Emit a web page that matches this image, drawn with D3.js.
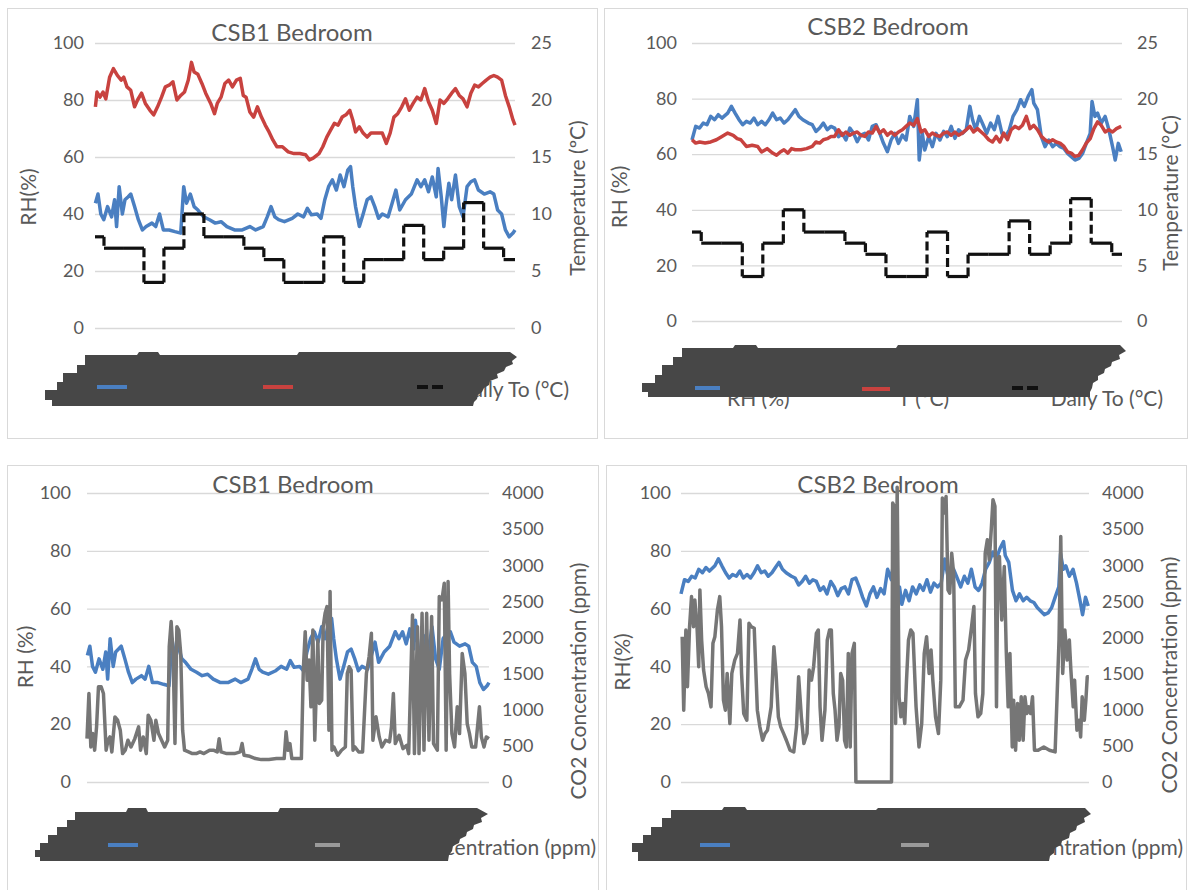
<!DOCTYPE html>
<html><head><meta charset="utf-8">
<script src="https://cdn.jsdelivr.net/npm/d3@7"></script>
<style>
body{margin:0;background:#fff;}
svg{display:block;font-family:Lato,"Open Sans",sans-serif;}
</style>
</head><body>
<svg id="c" width="1189" height="890"></svg>
<script>
// ---------- DATA (time in days, value) ----------
const csb1RH = [[0.57,43.8],[0.70,47],[0.84,40],[0.99,38],[1.18,42.6],[1.38,39],[1.53,45],[1.63,35.6],[1.76,49.6],[1.92,40],[2.05,45],[2.20,46],[2.34,47],[2.53,42.6],[2.72,38],[2.92,34.4],[3.11,35.6],[3.40,36.8],[3.59,35.6],[3.78,40],[3.97,34.4],[4.26,34.4],[4.55,33.8],[4.84,33.3],[4.99,49.6],[5.13,43.8],[5.32,47],[5.51,42.6],[5.70,41.4],[5.99,39],[6.28,38],[6.57,36.8],[6.86,37.3],[7.15,35.6],[7.53,34.4],[7.92,34.4],[8.30,35.6],[8.59,34.4],[8.97,35.6],[9.17,39],[9.36,42.6],[9.55,39],[9.74,38],[10.03,37.3],[10.42,38.5],[10.70,40],[10.99,39],[11.18,42],[11.38,39.7],[11.67,40],[11.86,38.5],[12.05,45],[12.24,49.6],[12.43,52],[12.63,48.4],[12.82,53.7],[13.01,49.6],[13.20,55.4],[13.34,56.6],[13.45,49.6],[13.59,42.6],[13.78,35.6],[13.97,40],[14.17,45],[14.36,46],[14.55,42.6],[14.74,38.5],[14.93,40],[15.22,39],[15.42,43.8],[15.61,48.4],[15.80,41.4],[16.09,45],[16.38,47],[16.67,52],[16.86,49.6],[17.05,52],[17.24,47.8],[17.43,53],[17.63,46],[17.72,56],[17.88,46],[18.01,35.6],[18.11,42.6],[18.26,50.8],[18.40,45],[18.59,53.7],[18.78,42.6],[18.97,39],[19.17,49.6],[19.36,51.3],[19.55,52],[19.74,48.4],[20.03,47],[20.32,47.8],[20.51,47],[20.70,41.4],[20.90,40],[21.09,34.4],[21.28,32],[21.47,33.3],[21.57,34.4]];

const csb1T = [[0.57,19.4],[0.65,20.7],[0.80,20.25],[0.95,20.7],[1.09,20.1],[1.28,22.0],[1.47,22.75],[1.67,22.15],[1.86,21.75],[1.99,22.0],[2.15,21.15],[2.34,20.85],[2.53,19.4],[2.68,20.0],[2.88,20.6],[3.07,19.7],[3.30,19.1],[3.49,18.7],[3.68,19.4],[3.88,20.25],[4.07,21.15],[4.26,21.3],[4.45,21.6],[4.65,20.0],[4.84,20.4],[5.03,20.7],[5.22,21.75],[5.38,23.3],[5.51,22.45],[5.70,22.25],[5.90,21.45],[6.09,20.6],[6.34,19.7],[6.53,18.8],[6.67,19.7],[6.86,20.25],[7.05,21.45],[7.24,21.75],[7.43,21.15],[7.63,21.75],[7.82,21.9],[7.97,20.4],[8.11,20.25],[8.30,18.95],[8.49,18.5],[8.68,19.4],[8.88,18.5],[9.07,17.8],[9.26,17.2],[9.45,16.5],[9.65,15.9],[9.93,15.9],[10.22,15.45],[10.51,15.3],[10.80,15.3],[11.09,15.2],[11.28,14.75],[11.47,14.9],[11.76,15.3],[11.95,15.9],[12.15,16.75],[12.34,17.35],[12.53,17.95],[12.72,17.8],[12.92,18.5],[13.11,18.7],[13.30,19.1],[13.45,18.25],[13.59,17.2],[13.78,17.65],[13.97,17.1],[14.17,16.75],[14.36,17.1],[14.65,17.1],[14.93,17.1],[15.13,16.2],[15.32,17.1],[15.51,18.5],[15.70,18.8],[15.90,19.4],[16.09,20.1],[16.28,19.1],[16.47,19.7],[16.67,20.25],[16.86,20.0],[17.05,21.0],[17.24,19.85],[17.43,19.1],[17.63,17.95],[17.82,20.0],[18.01,19.7],[18.20,20.1],[18.40,20.6],[18.59,21.0],[18.78,20.4],[18.97,20.1],[19.17,19.4],[19.36,20.6],[19.55,21.3],[19.74,21.15],[19.93,21.45],[20.13,21.75],[20.32,22.0],[20.51,22.15],[20.70,22.0],[20.90,21.75],[21.09,20.4],[21.28,19.4],[21.47,18.25],[21.57,17.8]];

const csb2RH = [[0.55,65.1],[0.73,70],[0.92,69.4],[1.10,71.2],[1.28,70.6],[1.46,73.6],[1.65,72.4],[1.83,74.2],[2.01,73],[2.29,74.8],[2.47,77.2],[2.65,74.8],[2.84,72.4],[3.02,70.6],[3.20,71.8],[3.39,71.2],[3.57,73],[3.75,70.6],[3.94,71.8],[4.12,70.6],[4.30,72.4],[4.48,74.8],[4.67,72.4],[4.85,73],[5.03,71.2],[5.22,72.4],[5.40,74.2],[5.58,76],[5.76,73.6],[5.95,72.4],[6.22,71.2],[6.41,70.6],[6.59,68.2],[6.77,69.4],[6.95,71.2],[7.14,68.8],[7.32,70],[7.50,69.4],[7.69,66.3],[7.87,67.5],[8.05,65.1],[8.24,69.4],[8.42,67.5],[8.60,64.5],[8.78,66.9],[8.97,67.5],[9.15,65.1],[9.33,70],[9.52,70.6],[9.70,67.5],[9.88,63.9],[10.07,60.9],[10.25,65.1],[10.43,67.5],[10.61,63.9],[10.80,66.9],[10.98,65.1],[11.16,73.6],[11.35,70],[11.53,79.6],[11.62,57.9],[11.77,67.5],[11.89,61.5],[12.08,66.3],[12.26,62.7],[12.44,67.5],[12.63,65.1],[12.81,68.2],[12.99,66.3],[13.18,70],[13.36,65.7],[13.54,68.8],[13.72,67.5],[13.91,68.8],[14.09,77.2],[14.22,72.4],[14.37,68.8],[14.55,73.6],[14.73,70.6],[14.91,67.5],[15.10,71.2],[15.28,68.8],[15.46,73.6],[15.65,67.5],[15.83,66.3],[16.01,68.8],[16.19,73.6],[16.38,76],[16.56,79.6],[16.74,77.2],[16.93,80.8],[17.11,83.2],[17.20,78.4],[17.38,76],[17.57,66.3],[17.75,62.7],[17.93,65.1],[18.12,62.7],[18.30,63.9],[18.48,62.7],[18.67,62.1],[18.85,60.3],[19.03,59.1],[19.21,57.9],[19.40,58.5],[19.58,60.3],[19.76,63.9],[19.95,67.5],[20.04,79],[20.18,73.6],[20.31,74.8],[20.49,71.2],[20.68,73.6],[20.86,68.8],[21.04,62.7],[21.17,57.9],[21.32,63.9],[21.46,60.9]];

const csb2T = [[0.55,16.3],[0.73,16.0],[0.92,16.1],[1.19,16.0],[1.46,16.1],[1.74,16.3],[2.01,16.6],[2.29,16.9],[2.56,16.7],[2.75,16.4],[2.93,16.3],[3.20,15.7],[3.48,15.8],[3.75,15.7],[3.94,15.2],[4.21,15.5],[4.48,15.1],[4.67,14.9],[4.85,15.2],[5.03,15.4],[5.22,15.1],[5.40,15.5],[5.58,15.4],[5.86,15.4],[6.13,15.5],[6.41,15.7],[6.59,16.1],[6.77,16.0],[6.95,16.3],[7.14,16.4],[7.32,16.6],[7.50,16.6],[7.69,17.2],[7.87,16.7],[8.05,17.0],[8.24,16.7],[8.42,16.9],[8.60,17.0],[8.78,16.7],[8.97,16.6],[9.15,17.0],[9.33,16.9],[9.52,17.5],[9.70,16.9],[9.88,17.2],[10.07,16.7],[10.25,17.0],[10.43,16.7],[10.61,17.0],[10.80,17.2],[10.98,17.5],[11.16,17.8],[11.35,17.6],[11.53,18.2],[11.71,17.0],[11.89,17.2],[12.08,16.6],[12.26,16.9],[12.44,16.7],[12.63,16.6],[12.81,16.9],[12.99,17.0],[13.18,16.7],[13.36,17.0],[13.54,16.7],[13.72,16.9],[13.91,17.2],[14.09,17.5],[14.27,17.0],[14.46,17.3],[14.64,17.0],[14.82,16.7],[15.01,16.3],[15.19,16.1],[15.37,16.6],[15.55,16.1],[15.74,16.9],[15.92,16.3],[16.10,17.2],[16.29,17.5],[16.47,17.3],[16.65,17.6],[16.84,18.4],[17.02,17.3],[17.20,17.6],[17.38,17.2],[17.57,16.6],[17.75,16.3],[17.93,16.1],[18.12,16.3],[18.30,16.1],[18.48,16.0],[18.67,15.7],[18.85,15.2],[19.03,15.1],[19.21,14.8],[19.40,14.9],[19.58,15.4],[19.76,16.0],[19.95,16.4],[20.13,17.3],[20.31,17.9],[20.49,17.6],[20.68,17.0],[20.86,17.2],[21.04,17.0],[21.23,17.3],[21.46,17.5]];

// daily outdoor temperature, one value per day (day 0 .. day 21)
const dailyTo = [8,7,7,4,7,10,8,8,7,6,4,4,8,4,6,6,9,6,7,11,7,6];

const csb1CO2 = [[0.55,600],[0.65,1225],[0.75,485],[0.85,670],[0.95,440],[1.05,763],[1.15,1318],[1.29,1318],[1.41,1225],[1.55,440],[1.65,578],[1.75,624],[1.85,416],[2.01,900],[2.15,855],[2.29,717],[2.41,393],[2.55,440],[2.69,578],[2.85,485],[3.05,600],[3.25,763],[3.35,440],[3.49,624],[3.65,393],[3.75,925],[3.89,855],[4.05,578],[4.15,855],[4.29,670],[4.45,578],[4.61,485],[4.77,578],[4.85,1873],[4.95,2220],[5.05,1780],[5.15,532],[5.25,2150],[5.35,2100],[5.45,1780],[5.55,717],[5.65,440],[5.86,416],[6.06,393],[6.26,393],[6.46,416],[6.66,393],[6.96,440],[7.16,440],[7.36,416],[7.46,600],[7.56,416],[7.86,393],[8.26,393],[8.56,416],[8.66,532],[8.76,370],[9.06,356],[9.36,324],[9.66,310],[10.06,310],[10.46,324],[10.86,324],[10.96,694],[11.06,440],[11.16,532],[11.26,324],[11.56,324],[11.76,324],[11.86,1549],[11.96,2081],[12.06,1410],[12.16,1688],[12.26,1040],[12.36,2104],[12.46,578],[12.62,1965],[12.70,1087],[12.82,1133],[12.90,2150],[13.00,2335],[13.10,2428],[13.20,717],[13.26,2636],[13.36,440],[13.46,485],[13.66,370],[13.86,440],[14.06,485],[14.16,1503],[14.26,1595],[14.36,1549],[14.46,440],[14.56,485],[14.76,416],[14.96,416],[15.16,1503],[15.30,1734],[15.42,2058],[15.50,578],[15.66,902],[15.83,624],[15.97,485],[16.17,578],[16.37,555],[16.47,763],[16.57,1225],[16.67,532],[16.87,647],[17.07,462],[17.27,508],[17.37,393],[17.57,2312],[17.67,393],[17.83,2150],[17.91,393],[18.07,2335],[18.17,440],[18.31,2335],[18.43,578],[18.57,2289],[18.67,532],[18.87,440],[18.97,2566],[19.11,2520],[19.23,2751],[19.33,440],[19.43,2774],[19.51,1503],[19.63,670],[19.77,485],[19.91,1040],[20.03,670],[20.17,1780],[20.31,1503],[20.43,809],[20.55,670],[20.67,485],[20.87,485],[21.07,1040],[21.17,624],[21.31,485],[21.43,624],[21.57,600]];

const csb2CO2 = [[0.61,2011],[0.69,994],[0.80,2104],[0.88,1318],[0.99,2150],[1.09,2566],[1.19,2150],[1.26,2520],[1.38,2104],[1.46,1595],[1.52,2659],[1.61,1965],[1.71,1549],[1.84,1318],[1.96,1225],[2.09,1040],[2.19,1919],[2.29,2011],[2.42,2381],[2.54,2566],[2.63,2150],[2.73,1133],[2.83,994],[2.92,1503],[3.06,809],[3.16,1503],[3.31,1688],[3.45,1780],[3.58,2243],[3.66,1503],[3.77,948],[3.93,855],[4.04,2196],[4.16,2150],[4.31,2127],[4.47,994],[4.60,763],[4.74,578],[4.86,670],[4.99,717],[5.18,1040],[5.32,1873],[5.43,1503],[5.55,902],[5.67,763],[5.82,670],[5.96,578],[6.15,440],[6.34,416],[6.48,763],[6.59,1457],[6.73,902],[6.86,532],[7.02,670],[7.13,1549],[7.25,1410],[7.36,1595],[7.50,2058],[7.60,2104],[7.69,1040],[7.79,578],[7.94,994],[8.06,1965],[8.18,2104],[8.27,2104],[8.37,1225],[8.46,994],[8.56,578],[8.66,763],[8.75,1503],[8.85,1410],[8.95,578],[9.04,485],[9.14,1780],[9.24,485],[9.33,1780],[9.45,1919],[9.53,0],[9.91,0],[10.69,0],[11.36,0],[11.42,3861],[11.50,3815],[11.57,809],[11.65,4080],[11.75,1179],[11.84,902],[11.94,1087],[12.04,809],[12.13,1410],[12.23,1965],[12.35,2104],[12.46,2058],[12.62,1040],[12.77,485],[12.91,809],[13.04,1780],[13.16,2011],[13.29,1503],[13.39,1826],[13.48,1410],[13.62,902],[13.77,670],[13.89,1410],[13.97,3930],[14.06,3722],[14.16,3953],[14.26,2659],[14.35,2612],[14.45,3167],[14.55,2890],[14.64,1040],[14.84,1040],[15.03,1133],[15.16,1688],[15.32,1826],[15.47,2150],[15.59,2428],[15.67,1225],[15.80,902],[15.94,948],[16.05,1225],[16.17,3167],[16.28,3352],[16.38,3075],[16.48,3491],[16.57,3907],[16.67,3815],[16.75,1040],[16.82,3075],[16.90,3121],[17.02,2243],[17.15,2982],[17.25,1826],[17.35,1040],[17.44,1780],[17.56,485],[17.63,1133],[17.73,440],[17.83,1087],[17.92,578],[18.02,1179],[18.12,578],[18.21,1179],[18.31,948],[18.41,1040],[18.50,948],[18.60,1179],[18.70,440],[18.89,440],[19.18,485],[19.47,440],[19.76,416],[19.86,1179],[19.96,1965],[20.05,3398],[20.15,1503],[20.26,2104],[20.38,1688],[20.49,1965],[20.57,1549],[20.69,1040],[20.76,1410],[20.88,717],[21.00,855],[21.07,624],[21.15,1179],[21.26,855],[21.34,1133],[21.41,1457],[21.49,1457]];

const rhTicks = [0,20,40,60,80,100];
const tempTicks = [0,5,10,15,20,25];
const co2Ticks = [0,500,1000,1500,2000,2500,3000,3500,4000];

// ---------- STYLE ----------
const BLUE = "#4a7fc1", RED = "#c8423f", GRAY = "#767676", BLACK = "#111";
const TXT = "#595959", GRID = "#d9d9d9", BLOB = "#474747";

const svg = d3.select("#c");

const panels = [
  { frame:[7,8,590,430], xr:[95,515], dom:[0.55,21.57], y0:328, y100:43,
    lx:84, rx:531, rTicks:tempTicks, rMax:25,
    title:"CSB1 Bedroom", tx:292, ty:33,
    lt:"RH(%)", ltx:29, lty:197, rt:"Temperature (ºC)", rtx:578, rty:198,
    series:[{d:csb1RH,c:BLUE,axis:"L"},{d:csb1T,c:RED,axis:"R"}], step:true,
    blob:[[85,355],[137,355],[139,352],[158,352],[160,355],[297,355],[299,352],[510,352],[517,357],[512,361],[513,364],[506,367],[504,371],[497,374],[498,378],[490,381],[489,385],[484,388],[482,392],[478,395],[477,399],[474,402],[473,406],[52,406],[52,400],[45,400],[45,390],[57,390],[57,382],[63,382],[63,373],[77,373],[77,365],[85,365]],
    legend:[{kind:"line",c:BLUE,x1:97,x2:127,y:387,t:"RH (%)",tx:133,ty:390,a:"start"},
            {kind:"line",c:RED,x1:263,x2:293,y:387,t:"T (°C)",tx:299,ty:390,a:"start"},
            {kind:"dash",c:BLACK,x1:417,x2:443,y:387,t:"Daily To (°C)",tx:569,ty:390,a:"end"}]},
  { frame:[604,8,583,430], xr:[692,1122], dom:[0.55,21.5], y0:321, y100:43,
    lx:677, rx:1137, rTicks:tempTicks, rMax:25,
    title:"CSB2 Bedroom", tx:888, ty:27,
    lt:"RH (%)", ltx:620, lty:197, rt:"Temperature (°C)", rtx:1171, rty:193,
    series:[{d:csb2RH,c:BLUE,axis:"L"},{d:csb2T,c:RED,axis:"R"}], step:true,
    blob:[[682,348],[733,348],[735,345],[756,345],[758,348],[896,348],[898,345],[1120,345],[1126,351],[1119,355],[1120,359],[1112,362],[1111,366],[1105,369],[1104,373],[1098,376],[1098,380],[1093,383],[1092,388],[1090,392],[1090,397],[648,397],[648,392],[642,392],[642,383],[655,383],[655,375],[662,375],[662,365],[673,365],[673,357],[682,357]],
    legend:[{kind:"line",c:BLUE,x1:695,x2:720,y:388,t:"RH (%)",tx:727,ty:399,a:"start"},
            {kind:"line",c:RED,x1:862,x2:890,y:389,t:"T (°C)",tx:898,ty:399,a:"start"},
            {kind:"dash",c:BLACK,x1:1012,x2:1042,y:388,t:"Daily To (°C)",tx:1163,ty:399,a:"end"}]},
  { frame:[7,465,591,440], xr:[87,489], dom:[0.55,21.57], y0:782, y100:493,
    lx:71, rx:502, rTicks:co2Ticks, rMax:4000,
    title:"CSB1 Bedroom", tx:293, ty:485,
    lt:"RH (%)", ltx:26, lty:657, rt:"CO2 Concentration (ppm)", rtx:579, rty:681,
    series:[{d:csb1RH,c:BLUE,axis:"L"},{d:csb1CO2,c:GRAY,axis:"R"}], step:false,
    blob:[[75,812],[126,812],[128,808],[146,808],[148,812],[278,812],[280,808],[477,808],[488,814],[481,818],[482,822],[474,825],[473,829],[467,832],[466,836],[460,839],[459,843],[453,846],[452,851],[449,855],[448,861],[40,861],[40,857],[35,857],[35,850],[40,850],[40,843],[48,843],[48,835],[57,835],[57,827],[67,827],[67,820],[75,820]],
    legend:[{kind:"line",c:BLUE,x1:108,x2:138,y:845,t:"RH (%)",tx:144,ty:848,a:"start"},
            {kind:"line",c:"#9a9a9a",x1:315,x2:340,y:845,t:"CO2 Concentration (ppm)",tx:596,ty:848,a:"end"}]},
  { frame:[606,465,580,440], xr:[681,1089], dom:[0.55,21.5], y0:782, y100:493,
    lx:671, rx:1102, rTicks:co2Ticks, rMax:4000,
    title:"CSB2 Bedroom", tx:878, ty:485,
    lt:"RH(%)", ltx:623, lty:662, rt:"CO2 Concentration (ppm)", rtx:1170, rty:675,
    series:[{d:csb2RH,c:BLUE,axis:"L"},{d:csb2CO2,c:GRAY,axis:"R"}], step:false,
    blob:[[671,810],[722,810],[724,807],[745,807],[747,810],[876,810],[878,808],[1085,808],[1091,814],[1084,818],[1085,822],[1077,826],[1076,830],[1070,833],[1069,838],[1062,841],[1061,845],[1055,848],[1054,853],[1050,856],[1049,861],[638,861],[638,852],[632,852],[632,843],[643,843],[643,835],[651,835],[651,827],[662,827],[662,818],[671,818]],
    legend:[{kind:"line",c:BLUE,x1:700,x2:730,y:845,t:"RH (%)",tx:737,ty:848,a:"start"},
            {kind:"line",c:"#9a9a9a",x1:901,x2:929,y:845,t:"CO2 Concentration (ppm)",tx:1183,ty:848,a:"end"}]}
];

panels.forEach(p => {
  const g = svg.append("g");
  g.append("rect").attr("x",p.frame[0]+0.5).attr("y",p.frame[1]+0.5)
    .attr("width",p.frame[2]).attr("height",p.frame[3])
    .attr("fill","#fff").attr("stroke",GRID).attr("stroke-width",1);

  const x = d3.scaleLinear().domain(p.dom).range(p.xr);
  const yL = d3.scaleLinear().domain([0,100]).range([p.y0,p.y100]);
  const yR = d3.scaleLinear().domain([0,p.rMax]).range([p.y0,p.y100]);

  // gridlines
  g.append("g").attr("transform",`translate(${p.xr[0]},0)`)
    .call(d3.axisLeft(yL).tickValues(rhTicks).tickSize(-(p.xr[1]-p.xr[0])).tickFormat(""))
    .call(s=>s.select(".domain").remove())
    .call(s=>s.selectAll("line").attr("stroke",GRID).attr("stroke-width",1.3));

  // left tick labels
  g.append("g").attr("transform",`translate(${p.lx},0)`)
    .call(d3.axisLeft(yL).tickValues(rhTicks).tickSize(0).tickPadding(0).tickFormat(d3.format("d")))
    .call(s=>s.select(".domain").remove())
    .call(s=>s.selectAll("text").attr("fill",TXT).attr("font-size",18).attr("font-family","Lato,sans-serif"));
  // right tick labels
  g.append("g").attr("transform",`translate(${p.rx},0)`)
    .call(d3.axisRight(yR).tickValues(p.rTicks).tickSize(0).tickPadding(0).tickFormat(d3.format("d")))
    .call(s=>s.select(".domain").remove())
    .call(s=>s.selectAll("text").attr("fill",TXT).attr("font-size",18).attr("font-family","Lato,sans-serif"));

  // title + axis titles
  g.append("text").attr("x",p.tx).attr("y",p.ty).attr("dy","0.35em").attr("text-anchor","middle")
    .attr("fill",TXT).attr("font-size",24).text(p.title);
  g.append("text").attr("transform",`translate(${p.ltx},${p.lty}) rotate(-90)`).attr("dy","0.35em")
    .attr("text-anchor","middle").attr("fill",TXT).attr("font-size",21).text(p.lt);
  g.append("text").attr("transform",`translate(${p.rtx},${p.rty}) rotate(-90)`).attr("dy","0.35em")
    .attr("text-anchor","middle").attr("fill",TXT).attr("font-size",21).text(p.rt);

  // series
  p.series.forEach(s => {
    const yy = s.axis === "L" ? yL : yR;
    g.append("path").datum(s.d)
      .attr("d", d3.line().x(d=>x(d[0])).y(d=>yy(d[1])))
      .attr("fill","none").attr("stroke",s.c).attr("stroke-width",3.5)
      .attr("stroke-linejoin","round");
  });

  // daily outdoor temperature step line
  if (p.step) {
    const segs = [];
    dailyTo.forEach((v,k) => {
      const a = Math.max(k, p.dom[0]), b = Math.min(k+1, p.dom[1]);
      segs.push({x1:a,y1:v,x2:b,y2:v,dash:false});
      if (k < dailyTo.length-1 && k+1 < p.dom[1])
        segs.push({x1:k+1,y1:v,x2:k+1,y2:dailyTo[k+1],dash:true});
    });
    g.selectAll("line.step").data(segs).join("line").attr("class","step")
      .attr("x1",d=>x(d.x1)).attr("x2",d=>x(d.x2))
      .attr("y1",d=>yR(d.y1)).attr("y2",d=>yR(d.y2))
      .attr("stroke",BLACK).attr("stroke-width",3.2)
      .attr("stroke-dasharray",d=>d.dash?"9,4":null);
  }

  // legend text (lies beneath the smeared axis labels)
  p.legend.forEach(l => {
    g.append("text").attr("x",l.tx).attr("y",l.ty).attr("dy","0.35em")
      .attr("text-anchor",l.a).attr("fill",TXT).attr("font-size",21).text(l.t);
  });
  // smeared overlapping x-axis labels
  g.append("path").attr("d", d3.line()(p.blob) + "Z").attr("fill",BLOB);
  // legend keys on top
  p.legend.forEach(l => {
    g.append("line").attr("x1",l.x1).attr("x2",l.x2).attr("y1",l.y).attr("y2",l.y)
      .attr("stroke",l.c).attr("stroke-width",4)
      .attr("stroke-dasharray", l.kind==="dash" ? "11,4" : null);
  });
});
</script>
</body></html>
